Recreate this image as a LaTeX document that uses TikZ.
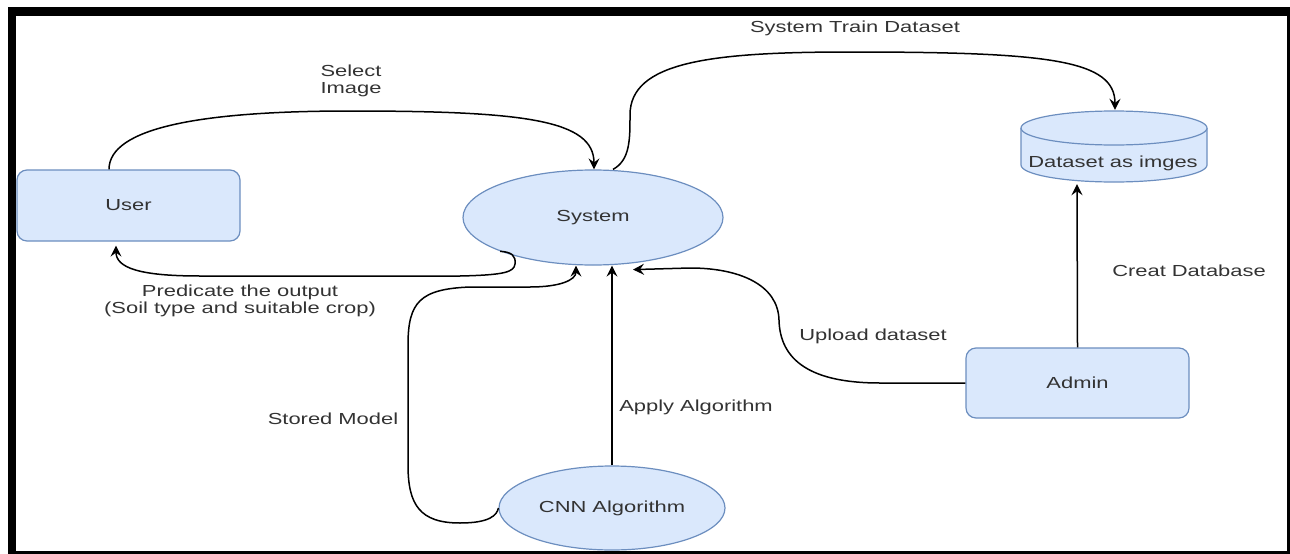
\documentclass[tikz,border=0pt]{standalone}
\usepackage{fontspec}
\setmainfont{Liberation Sans}[FakeStretch=1.37]
\usetikzlibrary{arrows.meta,shapes.geometric}
\definecolor{boxfill}{HTML}{DAE8FC}
\definecolor{boxline}{HTML}{6C8EBF}
\definecolor{txt}{HTML}{333333}

\begin{document}
\begin{tikzpicture}[x=1pt,y=-1pt,
  font=\fontsize{16}{17}\selectfont, text=txt,
  entity/.style={draw=boxline, fill=boxfill, line width=1.2pt, rounded corners=10pt,
    minimum width=223pt, minimum height=71pt, inner sep=0},
  process/.style={ellipse, draw=boxline, fill=boxfill, line width=1.2pt, inner sep=0},
  flow/.style={draw=black, line width=1.5pt, -{Stealth[length=11pt,width=11pt,inset=4pt]}},
  lbl/.style={align=center, inner sep=0}]

\useasboundingbox (0,0) rectangle (1290,554);

% external entities and processes
\node[entity] (user) at (128.5,205.5) {User};
\node[entity, minimum height=70pt] (admin) at (1077.5,383) {Admin};
\node[process, minimum width=260pt, minimum height=95pt] (system) at (593,217.5) {System};
\node[process, minimum width=226pt, minimum height=84pt] (cnn) at (612,508) {CNN Algorithm};

% data store drawn as a cylinder
\node[inner sep=0, minimum width=186pt, minimum height=72pt] (dbbox) at (1114,146) {};
\path[fill=boxfill] (1021,128) -- (1021,165) arc[start angle=180, end angle=0, x radius=93, y radius=17] -- (1207,128) -- cycle;
\draw[boxline, line width=1.2pt] (1021,128) -- (1021,165) arc[start angle=180, end angle=0, x radius=93, y radius=17] -- (1207,128);
\filldraw[draw=boxline, fill=boxfill, line width=1.2pt] (1114,128) ellipse [x radius=93, y radius=17];
\node[lbl] (dbtext) at (1113,163) {Dataset as imges};

% data flows
\draw[flow] ([xshift=-19.5pt]user.north) .. controls (109,128) and (200,111) .. (350,111)
  .. controls (525,111) and (594,120) .. ([xshift=1pt]system.north);
\draw[flow] ([xshift=20pt]system.north) .. controls (630,160) and (630,140) .. (630,115)
  .. controls (630,62) and (710,52) .. (850,52)
  .. controls (1050,52) and (1115,60) .. ([xshift=1pt]dbbox.north);
\draw[flow] (system.200) .. controls (512,252) and (516,256) .. (515,264)
  .. controls (514,272) and (505,275) .. (460,276) -- (200,276)
  .. controls (140,276) and (116,268) .. ([xshift=-12.5pt,yshift=-4pt]user.south);
\draw[flow] (cnn.west) .. controls (497,515) and (490,523) .. (460,523)
  .. controls (420,523) and (408,505) .. (408,465) -- (408,345)
  .. controls (408,302) and (420,289) .. (470,287) -- (530,287)
  .. controls (560,287) and (576,280) .. ([xshift=-17pt]system.south);
\draw[flow] (cnn.north) -- ([xshift=19pt]system.south);
\draw[flow] (admin.west) -- (880,383) .. controls (810,383) and (780,360) .. (779,320)
  .. controls (778,285) and (740,268) .. (690,268) -- ([xshift=40pt,yshift=-4pt]system.south);
\draw[flow] (admin.north) -- ([xshift=-37pt,yshift=-2pt]dbbox.south);

% flow labels
\node[lbl] (lselect) at (351,81) {Select\\Image};
\node[lbl] (ltrain) at (855,28) {System Train Dataset};
\node[lbl] (lpredict) at (240,300.5) {Predicate the output\\(Soil type and suitable crop)};
\node[lbl] (lstored) at (333,419) {Stored Model};
\node[lbl] (lapply) at (696,407) {Apply Algorithm};
\node[lbl] (lupload) at (873,336) {Upload dataset};
\node[lbl] (lcreate) at (1189,271) {Creat Database};

% frame
\fill[black] (8,7) rectangle (1290,16);
\fill[black] (8,7) rectangle (16,554);
\fill[black] (8,551) rectangle (1290,554);
\fill[black] (1287,7) rectangle (1289.5,554);
\end{tikzpicture}
\end{document}
